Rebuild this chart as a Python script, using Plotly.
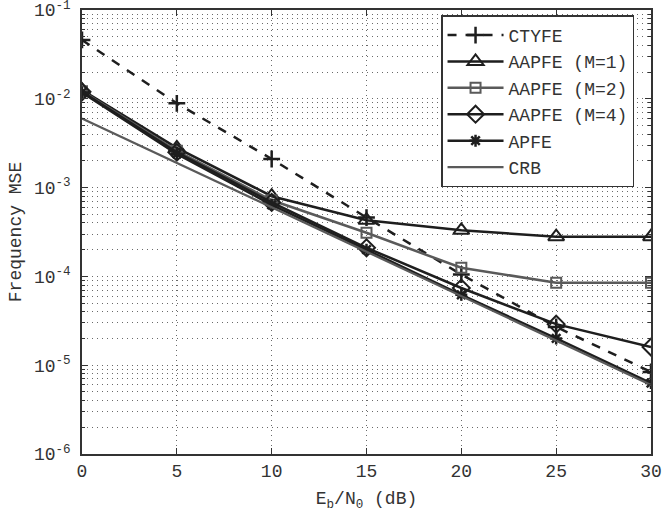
import plotly.graph_objects as go

snr_db = [0, 5, 10, 15, 20, 25, 30]
ctyfe = [0.046, 0.0089, 0.0021, 4.6e-4, 1.05e-4, 2.7e-5, 8.4e-6]
aapfe_m1 = [0.0125, 0.0028, 8.0e-4, 4.3e-4, 3.3e-4, 2.8e-4, 2.8e-4]
aapfe_m2 = [0.0122, 0.0026, 7.2e-4, 3.1e-4, 1.25e-4, 8.5e-5, 8.5e-5]
aapfe_m4 = [0.012, 0.0025, 6.8e-4, 2.1e-4, 7.4e-5, 2.9e-5, 1.6e-5]
apfe = [0.0118, 0.0024, 6.4e-4, 2.0e-4, 6.2e-5, 2.0e-5, 6.3e-6]
crb = [6.0e-3, 1.9e-3, 6.0e-4, 1.9e-4, 6.0e-5, 1.9e-5, 6.0e-6]

y_tickvals = [1e-6, 1e-5, 1e-4, 1e-3, 1e-2, 1e-1]
y_ticktext = ["10<sup>-6</sup>", "10<sup>-5</sup>", "10<sup>-4</sup>",
              "10<sup>-3</sup>", "10<sup>-2</sup>", "10<sup>-1</sup>"]
x_tickvals = [0, 5, 10, 15, 20, 25, 30]

BLACK = "#1e1e1e"
GRAY = "#5a5a5a"
FONT = "Liberation Mono, Courier New, monospace"
GRID = "#6a6a6a"
GRIDDASH = "1px,4px"

fig = go.Figure()
fig.add_trace(go.Scatter(x=snr_db, y=ctyfe, name="CTYFE", mode="lines+markers",
                         line=dict(color=BLACK, width=2.5, dash="dash"),
                         marker=dict(symbol="cross-thin-open", size=12,
                                     line=dict(color=BLACK, width=2.5))))
fig.add_trace(go.Scatter(x=snr_db, y=aapfe_m1, name="AAPFE (M=1)", mode="lines+markers",
                         line=dict(color=BLACK, width=2.5),
                         marker=dict(symbol="triangle-up-open", size=14, color=BLACK,
                                     line=dict(color=BLACK, width=2))))
fig.add_trace(go.Scatter(x=snr_db, y=aapfe_m2, name="AAPFE (M=2)", mode="lines+markers",
                         line=dict(color=GRAY, width=2.5),
                         marker=dict(symbol="square-open", size=10, color=GRAY,
                                     line=dict(color=GRAY, width=2))))
fig.add_trace(go.Scatter(x=snr_db, y=aapfe_m4, name="AAPFE (M=4)", mode="lines+markers",
                         line=dict(color=BLACK, width=2.5),
                         marker=dict(symbol="diamond-open", size=13, color=BLACK,
                                     line=dict(color=BLACK, width=2))))
fig.add_trace(go.Scatter(x=snr_db, y=apfe, name="APFE", mode="lines+markers",
                         line=dict(color=BLACK, width=2.5),
                         marker=dict(symbol="asterisk-open", size=10, color=BLACK,
                                     line=dict(color=BLACK, width=2.5))))
fig.add_trace(go.Scatter(x=snr_db, y=crb, name="CRB", mode="lines",
                         line=dict(color=GRAY, width=2.2)))

fig.update_layout(
    width=662, height=520,
    margin=dict(l=82, r=11, t=10, b=66, autoexpand=False),
    paper_bgcolor="white", plot_bgcolor="white",
    font=dict(family=FONT, size=18, color="#333333"),
    showlegend=True,
    legend=dict(x=0.631, y=0.988, xanchor="left", yanchor="top",
                bgcolor="white", bordercolor="#333333", borderwidth=1.5,
                font=dict(family=FONT, size=18, color="#333333"),
                tracegroupgap=0, itemwidth=56, entrywidth=150, entrywidthmode="pixels"),
)
fig.update_xaxes(
    range=[0, 30], tickvals=x_tickvals, ticks="inside", ticklen=6,
    tickcolor="#333333", showline=True, linecolor="#333333", linewidth=1.5,
    mirror="ticks", showgrid=True, gridcolor=GRID, griddash=GRIDDASH, gridwidth=1,
    zeroline=False, automargin=False, ticklabeloverflow="allow",
    tickfont=dict(family=FONT, size=18),
    title=dict(text="E<sub>b</sub>/N<sub>0</sub> (dB)", font=dict(family=FONT, size=18), standoff=10),
)
fig.update_yaxes(
    type="log", range=[-6, -1], tickvals=y_tickvals, ticktext=y_ticktext,
    ticks="inside", ticklen=6, tickcolor="#333333",
    showline=True, linecolor="#333333", linewidth=1.5, mirror="ticks",
    showgrid=True, gridcolor=GRID, griddash=GRIDDASH, gridwidth=1,
    minor=dict(dtick="D1", showgrid=True, gridcolor=GRID, griddash=GRIDDASH,
               gridwidth=1, ticks="inside", ticklen=3, tickcolor="#333333"),
    zeroline=False, automargin=False, ticklabeloverflow="allow",
    ticklabelstandoff=6,
    tickfont=dict(family=FONT, size=18),
    title=dict(text="Frequency MSE", font=dict(family=FONT, size=18), standoff=8),
)

fig.write_html("out.html", config={"displayModeBar": False},
               post_script="document.body.style.margin='0';document.body.style.overflow='hidden';")
